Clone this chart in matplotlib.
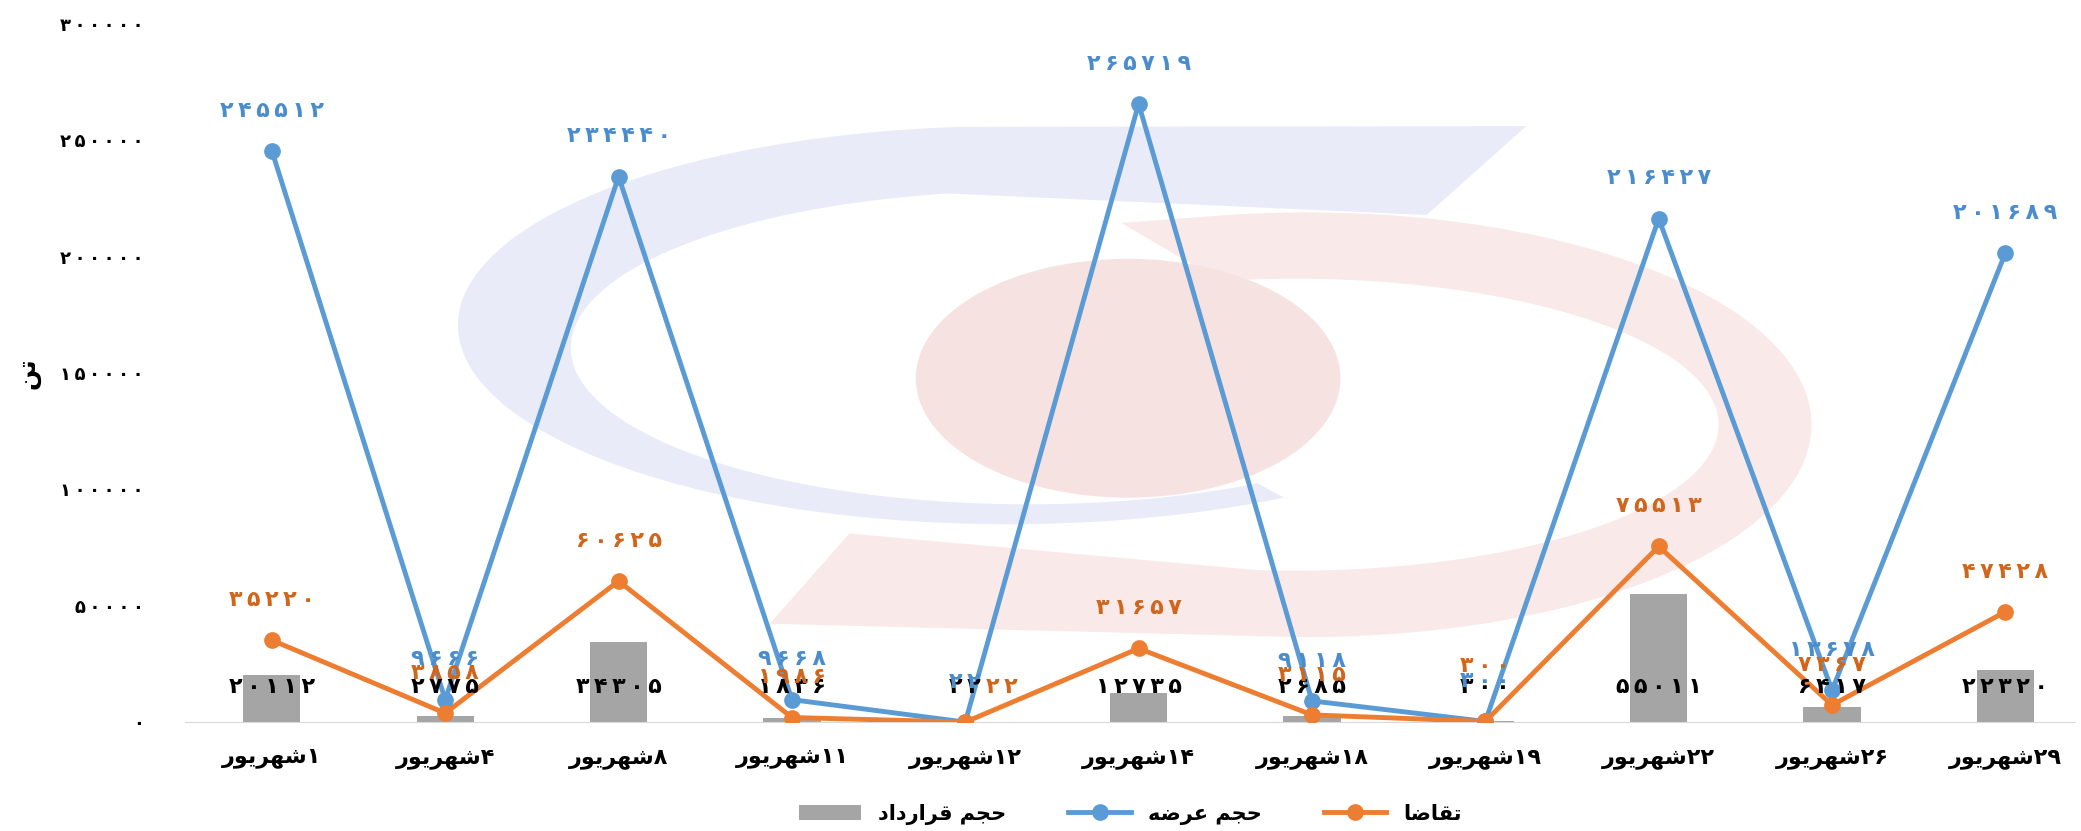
import matplotlib
matplotlib.use("Agg")
import matplotlib.pyplot as plt
import numpy as np
from matplotlib.patches import Polygon, Ellipse

# data
days = [1, 4, 8, 11, 12, 14, 18, 19, 22, 26, 29]
supply = [245512, 9666, 234440, 9668, 22, 265719, 9118, 300, 216427, 13678, 201689]
demand = [35220, 3858, 60625, 1986, 22, 31657, 3115, 300, 75513, 7367, 47428]
contract = [20112, 2775, 34305, 1836, 22, 12735, 2685, 300, 55011, 6417, 22320]
yticks = [0, 50000, 100000, 150000, 200000, 250000, 300000]

# persian text, written in visual order with presentation forms
FA = str.maketrans("0123456789", "۰۱۲۳۴۵۶۷۸۹")
def fa(n, sep="\u2009"):
    return sep.join(str(n).translate(FA))

shahrivar = "\uFEAD\uFEEE\uFEF3\uFEAE\uFEEC\uFEB7"
lbl_demand = "\uFE8E\uFEBF\uFE8E\uFED8\uFE97"
hajm = "\uFEE2\uFEA0\uFEA3"
lbl_supply = "\uFEEA\uFEBF\uFEAE\uFECB " + hajm
lbl_contract = "\uFEA9\uFE8D\uFEA9\uFEAD\uFE8D\uFEAE\uFED7 " + hajm
lbl_ton = "\uFEE6\uFE97"
cats = [shahrivar + fa(d, "") for d in days]

BLUE = "#5B9BD5"
ORANGE = "#ED7D31"
GRAY = "#A5A5A5"

W, H = 2081, 831
fig = plt.figure(figsize=(W / 100, H / 100), dpi=100)
plt.rcParams["font.family"] = ["DejaVu Sans"]

# faint logo watermark behind the plot
s = W / 1568
bg = fig.add_axes([0, 0, 1, 1], zorder=0)
bg.set_xlim(0, W)
bg.set_ylim(H, 0)
bg.axis("off")

t = np.radians(np.linspace(95, 300, 80))
outer = np.c_[760 + 415 * np.cos(t), 245 - 150 * np.sin(t)]
t2 = np.radians(np.linspace(300, 100, 80))
inner = np.c_[775 + 345 * np.cos(t2), 262 - 118 * np.sin(t2)]
blue_pts = np.vstack([outer, inner, [[1075, 162], [1150, 95]]])
bg.add_patch(Polygon(blue_pts * s, closed=True, color="#e9ebf8", lw=0))

t = np.radians(np.linspace(100, -95, 80))
r_out = np.c_[985 + 380 * np.cos(t), 320 - 160 * np.sin(t)]
t2 = np.radians(np.linspace(-95, 100, 80))
r_in = np.c_[975 + 320 * np.cos(t2), 320 - 110 * np.sin(t2)]
red_pts = np.vstack([[[845, 168]], r_out, [[580, 470], [640, 402]], r_in])
bg.add_patch(Polygon(red_pts * s, closed=True, color="#fae9e9", lw=0))
bg.add_patch(Ellipse((850 * s, 285 * s), 320 * s, 180 * s, color="#f7e2e2", lw=0))

ax = fig.add_axes([0.089, 0.131, 0.908, 0.84], zorder=1)
ax.set_facecolor("none")
x = np.arange(len(days))

bars = ax.bar(x, contract, width=0.33, color=GRAY, label=lbl_contract, zorder=2)
l_sup, = ax.plot(x, supply, color=BLUE, lw=3.5, marker="o", ms=11, label=lbl_supply, zorder=3)
l_dem, = ax.plot(x, demand, color=ORANGE, lw=3.5, marker="o", ms=11, label=lbl_demand, zorder=4)

for i in range(len(x)):
    ax.annotate(fa(contract[i]), (x[i], 0), xytext=(0, 25), textcoords="offset points",
                ha="center", va="center", fontsize=16, fontweight="bold", color="black", zorder=5)
    ax.annotate(fa(supply[i]), (x[i], supply[i]), xytext=(0, 29), textcoords="offset points",
                ha="center", va="center", fontsize=16, fontweight="bold", color="#4a8ccc", zorder=5)
    # where the labels collide, the reference moves the demand label aside
    dx, dy = 0, 29
    if days[i] == 12:
        dx, dy = 26, 25
    elif days[i] == 19:
        dy = 40
    ax.annotate(fa(demand[i]), (x[i], demand[i]), xytext=(dx, dy), textcoords="offset points",
                ha="center", va="center", fontsize=16, fontweight="bold", color="#d0651c", zorder=5)

ax.set_xlim(-0.5, 10.4)
ax.set_ylim(0, 300000)
ax.set_xticks(x)
ax.set_xticklabels(cats, fontsize=16, fontweight="bold")
ax.set_yticks(yticks)
ax.set_yticklabels([fa(v) for v in yticks], fontsize=13, fontweight="bold")
ax.tick_params(axis="x", length=0, pad=19)
ax.tick_params(axis="y", length=0, pad=30)
for sp in ["top", "right", "left"]:
    ax.spines[sp].set_visible(False)
ax.spines["bottom"].set_color("#d9d9d9")
ax.set_ylabel(lbl_ton, fontsize=18, fontweight="bold", rotation=90, labelpad=14)

ax.legend([bars, l_sup, l_dem], [lbl_contract, lbl_supply, lbl_demand], loc="upper center",
          bbox_to_anchor=(0.5, -0.09), ncol=3, frameon=False,
          prop={"size": 15, "weight": "bold"}, handlelength=3, columnspacing=3)

fig.savefig("out.png", dpi=100)
